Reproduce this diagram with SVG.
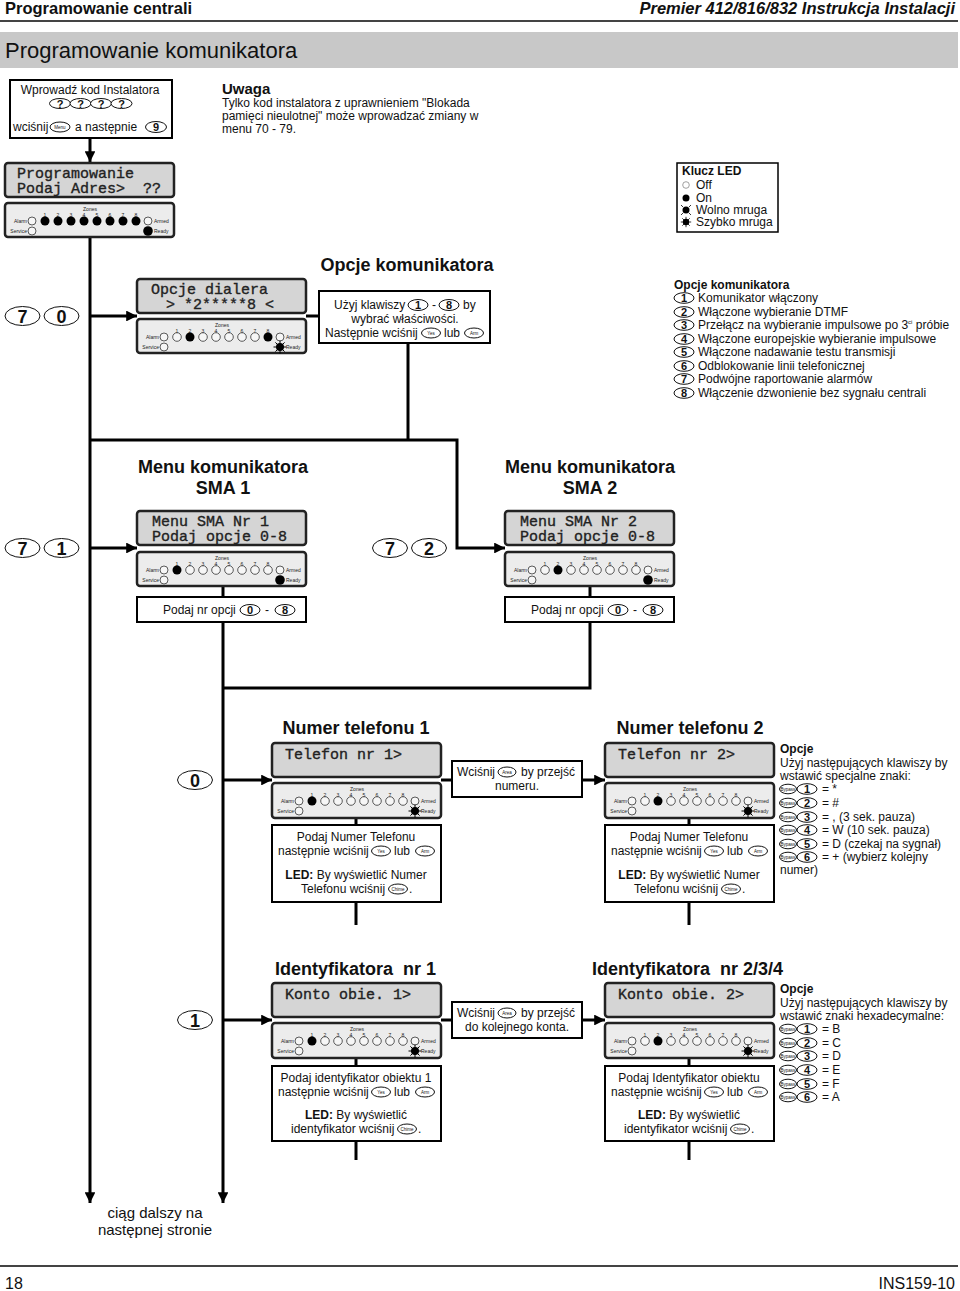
<svg xmlns="http://www.w3.org/2000/svg" width="960" height="1291" viewBox="0 0 960 1291">
<style>
text{font-family:"Liberation Sans",Arial,sans-serif;fill:#111}
.t{font-size:12px}
.c{text-anchor:middle}
.e{text-anchor:end}
.b{font-weight:bold}
.pre{white-space:pre}
.h18{font-size:18px;font-weight:bold}
.lcd{font-family:"Liberation Mono","DejaVu Sans Mono",monospace;font-size:15px;fill:#222;stroke:#222;stroke-width:.35;white-space:pre}
.ti{font-size:5px;fill:#222}
.box{fill:#fff;stroke:#000;stroke-width:2}
.lcdb{fill:#d5d5d5;stroke:#222;stroke-width:2.5}
.ledb{fill:#ececec;stroke:#222;stroke-width:2.5}
.off{fill:#f6f6f6;stroke:#333;stroke-width:.8}
.on{fill:#000}
.key{fill:#fff;stroke:#111;stroke-width:1}
.kn{font-size:11px;font-weight:bold;text-anchor:middle}
.kb{font-size:18px;font-weight:bold;text-anchor:middle}
.kl{font-size:4.5px;text-anchor:middle}
.ln{stroke:#000;stroke-width:3;fill:none}
.la{stroke:#000;stroke-width:3;fill:none;marker-end:url(#ah)}
</style>
<defs>
<marker id="ah" viewBox="0 0 10 10" refX="10" refY="5" markerWidth="3.6" markerHeight="3.6" orient="auto"><path d="M0 0L10 5L0 10z" fill="#000"/></marker>
<g id="fast"><circle r="4" fill="#000"/><path d="M0-6.5V6.5M-6.5 0H6.5M-4.6-4.6L4.6 4.6M-4.6 4.6L4.6-4.6" stroke="#000" stroke-width="1"/></g>
<g id="slow"><circle r="3.5" fill="#000"/><path d="M-5-5l2 2M5-5l-2 2M-5 5l2-2M5 5l-2-2" stroke="#000" stroke-width=".8"/></g>
</defs>

<g id="header">
<text x="5" y="14" style="font-size:16.5px;font-weight:bold">Programowanie centrali</text>
<text x="955" y="14" class="e" style="font-size:16.5px;font-weight:bold;font-style:italic">Premier 412/816/832 Instrukcja Instalacji</text>
<line x1="0" y1="21" x2="958" y2="21" stroke="#444" stroke-width="2"/>
<rect x="0" y="32" width="958" height="36" fill="#c8c8c8"/>
<text x="5" y="58" style="font-size:22px">Programowanie komunikatora</text>
</g>

<g id="connectors">
<path class="la" d="M90 139V162"/>
<path class="la" d="M90 237V1203"/>
<path class="la" d="M90 316H137"/>
<path class="la" d="M90 548H137"/>
<path class="ln" d="M306 316H319"/>
<path class="ln" d="M408 343V440"/>
<path class="la" d="M90 440H457V548H505"/>
<path class="ln" d="M223 586V597"/>
<path class="ln" d="M590 586V597"/>
<path class="la" d="M223 622V1203"/>
<path class="ln" d="M590 622V688H223"/>
<path class="la" d="M223 780H272"/>
<path class="la" d="M223 1020H272"/>
<path class="ln" d="M356 818V825"/>
<path class="ln" d="M689 818V825"/>
<path class="ln" d="M356 902V925"/>
<path class="ln" d="M689 902V925"/>
<path class="ln" d="M441 780H452"/>
<path class="la" d="M582 780H605"/>
<path class="ln" d="M356 1058V1066"/>
<path class="ln" d="M689 1058V1066"/>
<path class="ln" d="M356 1141V1160"/>
<path class="ln" d="M689 1141V1160"/>
<path class="ln" d="M441 1020H452"/>
<path class="la" d="M582 1020H605"/>
</g>

<g id="start">
<rect class="box" x="10" y="80" width="162" height="58"/>
<text class="t c" x="90" y="94">Wprowadź kod Instalatora</text>
<ellipse class="key" cx="60" cy="103.5" rx="10.5" ry="5"/><text class="kn" x="60" y="107.5">?</text>
<ellipse class="key" cx="80.5" cy="103.5" rx="10.5" ry="5"/><text class="kn" x="80.5" y="107.5">?</text>
<ellipse class="key" cx="101" cy="103.5" rx="10.5" ry="5"/><text class="kn" x="101" y="107.5">?</text>
<ellipse class="key" cx="121.5" cy="103.5" rx="10.5" ry="5"/><text class="kn" x="121.5" y="107.5">?</text>
<text class="t" x="13" y="131">wciśnij</text>
<ellipse class="key" cx="60" cy="127" rx="10" ry="5"/><text class="kl" x="60" y="128.6">Menu</text>
<text class="t" x="75" y="131">a następnie</text>
<ellipse class="key" cx="156" cy="127" rx="10.5" ry="5.5"/><text class="kn" x="156" y="131">9</text>
</g>

<g id="note">
<text x="222" y="94" style="font-size:15px;font-weight:bold">Uwaga</text>
<text class="t" x="222" y="107">Tylko kod instalatora z uprawnieniem "Blokada</text>
<text class="t" x="222" y="120">pamięci nieulotnej" może wprowadzać zmiany w</text>
<text class="t" x="222" y="133">menu 70 - 79.</text>
</g>

<g id="kp-prog">
<rect class="lcdb" x="5" y="163" width="169" height="34" rx="3"/>
<text class="lcd" x="17" y="178">Programowanie</text>
<text class="lcd" x="17" y="193">Podaj Adres>  ??</text>
<g transform="translate(5,203)">
<rect class="ledb" width="169" height="34" rx="3"/>
<text class="ti c" x="85" y="8">Zones</text>
<text class="ti c" x="40 53 66 79 92 105 118 131" y="14">12345678</text>
<text class="ti e" x="22" y="20">Alarm</text><text class="ti e" x="22" y="30">Service</text>
<text class="ti" x="149" y="20">Armed</text><text class="ti" x="149" y="30">Ready</text>
<circle class="off" cx="27" cy="18" r="4"/><circle class="off" cx="27" cy="28" r="4"/><circle class="off" cx="143" cy="18" r="4"/>
<circle class="on" cx="40" cy="18" r="4.5"/><circle class="on" cx="53" cy="18" r="4.5"/><circle class="on" cx="66" cy="18" r="4.5"/><circle class="on" cx="79" cy="18" r="4.5"/><circle class="on" cx="92" cy="18" r="4.5"/><circle class="on" cx="105" cy="18" r="4.5"/><circle class="on" cx="118" cy="18" r="4.5"/><circle class="on" cx="131" cy="18" r="4.5"/>
<circle class="on" cx="143" cy="28" r="4.8"/>
</g>
</g>

<g id="ledkey">
<rect x="677" y="163" width="101" height="69" fill="#fff" stroke="#000" stroke-width="1.5"/>
<text class="t b" x="682" y="175">Klucz LED</text>
<circle cx="686" cy="185" r="3.3" fill="#fff" stroke="#888" stroke-width=".8"/>
<text class="t" x="696" y="189">Off</text>
<circle cx="686" cy="198" r="3.5" fill="#000"/>
<text class="t" x="696" y="202">On</text>
<use href="#slow" x="686" y="210"/>
<text class="t" x="696" y="214">Wolno mruga</text>
<use href="#fast" x="686" y="222" transform="translate(686,222) scale(.8) translate(-686,-222)"/>
<text class="t" x="696" y="226">Szybko mruga</text>
</g>

<g id="keys70">
<ellipse class="key" cx="22.5" cy="316" rx="17.5" ry="9.5"/><text class="kb" x="22.5" y="322.5">7</text>
<ellipse class="key" cx="61.5" cy="316" rx="17.5" ry="9.5"/><text class="kb" x="61.5" y="322.5">0</text>
</g>

<g id="kp-70">
<rect class="lcdb" x="137" y="279" width="169" height="34" rx="3"/>
<text class="lcd" x="151" y="294">Opcje dialera</text>
<text class="lcd" x="166" y="309">> *2*****8 &lt;</text>
<g transform="translate(137,319)">
<rect class="ledb" width="169" height="34" rx="3"/>
<text class="ti c" x="85" y="8">Zones</text>
<text class="ti c" x="40 53 66 79 92 105 118 131" y="14">12345678</text>
<text class="ti e" x="22" y="20">Alarm</text><text class="ti e" x="22" y="30">Service</text>
<text class="ti" x="149" y="20">Armed</text><text class="ti" x="149" y="30">Ready</text>
<circle class="off" cx="27" cy="18" r="4"/><circle class="off" cx="27" cy="28" r="4"/><circle class="off" cx="143" cy="18" r="4"/>
<circle class="off" cx="40" cy="18" r="4.3"/><circle class="on" cx="53" cy="18" r="4.5"/><circle class="off" cx="66" cy="18" r="4.3"/><circle class="off" cx="79" cy="18" r="4.3"/><circle class="off" cx="92" cy="18" r="4.3"/><circle class="off" cx="105" cy="18" r="4.3"/><circle class="off" cx="118" cy="18" r="4.3"/><circle class="on" cx="131" cy="18" r="4.5"/>
<use href="#fast" x="143" y="28"/>
</g>
</g>

<g id="box-70">
<text class="h18 c" x="407" y="271">Opcje komunikatora</text>
<rect class="box" x="319" y="291" width="171" height="52"/>
<text class="t" x="334" y="309">Użyj klawiszy</text>
<ellipse class="key" cx="418" cy="305" rx="10" ry="5.5"/><text class="kn" x="418" y="309">1</text>
<text class="t" x="432" y="309">-</text>
<ellipse class="key" cx="449" cy="305" rx="10" ry="5.5"/><text class="kn" x="449" y="309">8</text>
<text class="t" x="463" y="309">by</text>
<text class="t c" x="405" y="323">wybrać właściwości.</text>
<text class="t" x="325" y="337">Następnie wciśnij</text>
<ellipse class="key" cx="431" cy="333" rx="9.5" ry="5"/><text class="kl" x="431" y="334.6">Yes</text>
<text class="t" x="444" y="337">lub</text>
<ellipse class="key" cx="474" cy="333" rx="9.5" ry="5"/><text class="kl" x="474" y="334.6">Arm</text>
</g>

<g id="list-70">
<text class="t b" x="674" y="289">Opcje komunikatora</text>
<ellipse class="key" cx="684" cy="298" rx="10" ry="5.3"/><text class="kn" x="684" y="302">1</text><text class="t" x="698" y="302">Komunikator włączony</text>
<ellipse class="key" cx="684" cy="312" rx="10" ry="5.3"/><text class="kn" x="684" y="316">2</text><text class="t" x="698" y="316">Włączone wybieranie DTMF</text>
<ellipse class="key" cx="684" cy="325" rx="10" ry="5.3"/><text class="kn" x="684" y="329">3</text><text class="t" x="698" y="329">Przełącz na wybieranie impulsowe po 3<tspan dy="-5" style="font-size:6px">ci</tspan><tspan dy="5"> próbie</tspan></text>
<ellipse class="key" cx="684" cy="339" rx="10" ry="5.3"/><text class="kn" x="684" y="343">4</text><text class="t" x="698" y="343">Włączone europejskie wybieranie impulsowe</text>
<ellipse class="key" cx="684" cy="352" rx="10" ry="5.3"/><text class="kn" x="684" y="356">5</text><text class="t" x="698" y="356">Włączone nadawanie testu transmisji</text>
<ellipse class="key" cx="684" cy="366" rx="10" ry="5.3"/><text class="kn" x="684" y="370">6</text><text class="t" x="698" y="370">Odblokowanie linii telefonicznej</text>
<ellipse class="key" cx="684" cy="379" rx="10" ry="5.3"/><text class="kn" x="684" y="383">7</text><text class="t" x="698" y="383">Podwójne raportowanie alarmów</text>
<ellipse class="key" cx="684" cy="393" rx="10" ry="5.3"/><text class="kn" x="684" y="397">8</text><text class="t" x="698" y="397">Włączenie dzwonienie bez sygnału centrali</text>
</g>

<g id="sma1">
<text class="h18 c" x="223" y="473">Menu komunikatora</text>
<text class="h18 c" x="223" y="494">SMA 1</text>
<ellipse class="key" cx="22.5" cy="548" rx="17.5" ry="9.5"/><text class="kb" x="22.5" y="554.5">7</text>
<ellipse class="key" cx="61.5" cy="548" rx="17.5" ry="9.5"/><text class="kb" x="61.5" y="554.5">1</text>
<rect class="lcdb" x="137" y="511" width="169" height="34" rx="3"/>
<text class="lcd" x="152" y="526">Menu SMA Nr 1</text>
<text class="lcd" x="152" y="541">Podaj opcje 0-8</text>
<g transform="translate(137,552)">
<rect class="ledb" width="169" height="34" rx="3"/>
<text class="ti c" x="85" y="8">Zones</text>
<text class="ti c" x="40 53 66 79 92 105 118 131" y="14">12345678</text>
<text class="ti e" x="22" y="20">Alarm</text><text class="ti e" x="22" y="30">Service</text>
<text class="ti" x="149" y="20">Armed</text><text class="ti" x="149" y="30">Ready</text>
<circle class="off" cx="27" cy="18" r="4"/><circle class="off" cx="27" cy="28" r="4"/><circle class="off" cx="143" cy="18" r="4"/>
<circle class="on" cx="40" cy="18" r="4.5"/><circle class="off" cx="53" cy="18" r="4.3"/><circle class="off" cx="66" cy="18" r="4.3"/><circle class="off" cx="79" cy="18" r="4.3"/><circle class="off" cx="92" cy="18" r="4.3"/><circle class="off" cx="105" cy="18" r="4.3"/><circle class="off" cx="118" cy="18" r="4.3"/><circle class="off" cx="131" cy="18" r="4.3"/>
<circle class="on" cx="143" cy="28" r="4.8"/>
</g>
<rect class="box" x="137" y="597" width="169" height="25"/>
<text class="t" x="163" y="614">Podaj nr opcji</text>
<ellipse class="key" cx="250" cy="610" rx="10" ry="5.5"/><text class="kn" x="250" y="614">0</text>
<text class="t" x="265" y="614">-</text>
<ellipse class="key" cx="285" cy="610" rx="10" ry="5.5"/><text class="kn" x="285" y="614">8</text>
</g>

<g id="sma2">
<text class="h18 c" x="590" y="473">Menu komunikatora</text>
<text class="h18 c" x="590" y="494">SMA 2</text>
<ellipse class="key" cx="390" cy="548" rx="17.5" ry="9.5"/><text class="kb" x="390" y="554.5">7</text>
<ellipse class="key" cx="429" cy="548" rx="17.5" ry="9.5"/><text class="kb" x="429" y="554.5">2</text>
<rect class="lcdb" x="505" y="511" width="169" height="34" rx="3"/>
<text class="lcd" x="520" y="526">Menu SMA Nr 2</text>
<text class="lcd" x="520" y="541">Podaj opcje 0-8</text>
<g transform="translate(505,552)">
<rect class="ledb" width="169" height="34" rx="3"/>
<text class="ti c" x="85" y="8">Zones</text>
<text class="ti c" x="40 53 66 79 92 105 118 131" y="14">12345678</text>
<text class="ti e" x="22" y="20">Alarm</text><text class="ti e" x="22" y="30">Service</text>
<text class="ti" x="149" y="20">Armed</text><text class="ti" x="149" y="30">Ready</text>
<circle class="off" cx="27" cy="18" r="4"/><circle class="off" cx="27" cy="28" r="4"/><circle class="off" cx="143" cy="18" r="4"/>
<circle class="off" cx="40" cy="18" r="4.3"/><circle class="on" cx="53" cy="18" r="4.5"/><circle class="off" cx="66" cy="18" r="4.3"/><circle class="off" cx="79" cy="18" r="4.3"/><circle class="off" cx="92" cy="18" r="4.3"/><circle class="off" cx="105" cy="18" r="4.3"/><circle class="off" cx="118" cy="18" r="4.3"/><circle class="off" cx="131" cy="18" r="4.3"/>
<circle class="on" cx="143" cy="28" r="4.8"/>
</g>
<rect class="box" x="505" y="597" width="169" height="25"/>
<text class="t" x="531" y="614">Podaj nr opcji</text>
<ellipse class="key" cx="618" cy="610" rx="10" ry="5.5"/><text class="kn" x="618" y="614">0</text>
<text class="t" x="633" y="614">-</text>
<ellipse class="key" cx="653" cy="610" rx="10" ry="5.5"/><text class="kn" x="653" y="614">8</text>
</g>

<g id="tel1">
<ellipse class="key" cx="195" cy="780" rx="17.5" ry="9.5"/><text class="kb" x="195" y="786.5">0</text>
<text class="h18 c" x="356" y="734">Numer telefonu 1</text>
<rect class="lcdb" x="272" y="743" width="169" height="34" rx="3"/>
<text class="lcd" x="285" y="759">Telefon nr 1></text>
<g transform="translate(272,783)">
<rect class="ledb" width="169" height="35" rx="3"/>
<text class="ti c" x="85" y="8">Zones</text>
<text class="ti c" x="40 53 66 79 92 105 118 131" y="14">12345678</text>
<text class="ti e" x="22" y="20">Alarm</text><text class="ti e" x="22" y="30">Service</text>
<text class="ti" x="149" y="20">Armed</text><text class="ti" x="149" y="30">Ready</text>
<circle class="off" cx="27" cy="18" r="4"/><circle class="off" cx="27" cy="28" r="4"/><circle class="off" cx="143" cy="18" r="4"/>
<circle class="on" cx="40" cy="18" r="4.5"/><circle class="off" cx="53" cy="18" r="4.3"/><circle class="off" cx="66" cy="18" r="4.3"/><circle class="off" cx="79" cy="18" r="4.3"/><circle class="off" cx="92" cy="18" r="4.3"/><circle class="off" cx="105" cy="18" r="4.3"/><circle class="off" cx="118" cy="18" r="4.3"/><circle class="off" cx="131" cy="18" r="4.3"/>
<use href="#fast" x="143" y="28"/>
</g>
<rect class="box" x="272" y="825" width="169" height="77"/>
<text class="t c" x="356" y="841">Podaj Numer Telefonu</text>
<text class="t" x="278" y="855">następnie wciśnij</text>
<ellipse class="key" cx="381" cy="851" rx="9.5" ry="5"/><text class="kl" x="381" y="852.6">Yes</text>
<text class="t" x="394" y="855">lub</text>
<ellipse class="key" cx="425" cy="851" rx="9.5" ry="5"/><text class="kl" x="425" y="852.6">Arm</text>
<text class="t c" x="356" y="879"><tspan class="b">LED:</tspan> By wyświetlić Numer</text>
<text class="t" x="301" y="893">Telefonu wciśnij</text>
<ellipse class="key" cx="398" cy="889" rx="9.5" ry="5"/><text class="kl" x="398" y="890.6">Chime</text>
<text class="t" x="409" y="893">.</text>
</g>

<g id="area1">
<rect class="box" x="452" y="761" width="130" height="36"/>
<text class="t" x="457" y="776">Wciśnij</text>
<ellipse class="key" cx="507" cy="772" rx="9" ry="5"/><text class="kl" x="507" y="773.6">Area</text>
<text class="t" x="521" y="776">by przejść</text>
<text class="t c" x="517" y="790">numeru.</text>
</g>

<g id="tel2">
<text class="h18 c" x="690" y="734">Numer telefonu 2</text>
<rect class="lcdb" x="605" y="743" width="169" height="34" rx="3"/>
<text class="lcd" x="618" y="759">Telefon nr 2></text>
<g transform="translate(605,783)">
<rect class="ledb" width="169" height="35" rx="3"/>
<text class="ti c" x="85" y="8">Zones</text>
<text class="ti c" x="40 53 66 79 92 105 118 131" y="14">12345678</text>
<text class="ti e" x="22" y="20">Alarm</text><text class="ti e" x="22" y="30">Service</text>
<text class="ti" x="149" y="20">Armed</text><text class="ti" x="149" y="30">Ready</text>
<circle class="off" cx="27" cy="18" r="4"/><circle class="off" cx="27" cy="28" r="4"/><circle class="off" cx="143" cy="18" r="4"/>
<circle class="off" cx="40" cy="18" r="4.3"/><circle class="on" cx="53" cy="18" r="4.5"/><circle class="off" cx="66" cy="18" r="4.3"/><circle class="off" cx="79" cy="18" r="4.3"/><circle class="off" cx="92" cy="18" r="4.3"/><circle class="off" cx="105" cy="18" r="4.3"/><circle class="off" cx="118" cy="18" r="4.3"/><circle class="off" cx="131" cy="18" r="4.3"/>
<use href="#fast" x="143" y="28"/>
</g>
<rect class="box" x="605" y="825" width="169" height="77"/>
<text class="t c" x="689" y="841">Podaj Numer Telefonu</text>
<text class="t" x="611" y="855">następnie wciśnij</text>
<ellipse class="key" cx="714" cy="851" rx="9.5" ry="5"/><text class="kl" x="714" y="852.6">Yes</text>
<text class="t" x="727" y="855">lub</text>
<ellipse class="key" cx="758" cy="851" rx="9.5" ry="5"/><text class="kl" x="758" y="852.6">Arm</text>
<text class="t c" x="689" y="879"><tspan class="b">LED:</tspan> By wyświetlić Numer</text>
<text class="t" x="634" y="893">Telefonu wciśnij</text>
<ellipse class="key" cx="731" cy="889" rx="9.5" ry="5"/><text class="kl" x="731" y="890.6">Chime</text>
<text class="t" x="742" y="893">.</text>
</g>

<g id="opts-tel">
<text class="t b" x="780" y="753">Opcje</text>
<text class="t" x="780" y="767">Użyj następujących klawiszy by</text>
<text class="t" x="780" y="780">wstawić specjalne znaki:</text>
<ellipse class="key" cx="788" cy="789" rx="8.5" ry="4.8"/><text class="kl" x="788" y="790.6">Bypass</text><ellipse class="key" cx="807" cy="789" rx="10" ry="5.3"/><text class="kn" x="807" y="793">1</text><text class="t" x="822" y="793">= *</text>
<ellipse class="key" cx="788" cy="803" rx="8.5" ry="4.8"/><text class="kl" x="788" y="804.6">Bypass</text><ellipse class="key" cx="807" cy="803" rx="10" ry="5.3"/><text class="kn" x="807" y="807">2</text><text class="t" x="822" y="807">= #</text>
<ellipse class="key" cx="788" cy="817" rx="8.5" ry="4.8"/><text class="kl" x="788" y="818.6">Bypass</text><ellipse class="key" cx="807" cy="817" rx="10" ry="5.3"/><text class="kn" x="807" y="821">3</text><text class="t" x="822" y="821">= , (3 sek. pauza)</text>
<ellipse class="key" cx="788" cy="830" rx="8.5" ry="4.8"/><text class="kl" x="788" y="831.6">Bypass</text><ellipse class="key" cx="807" cy="830" rx="10" ry="5.3"/><text class="kn" x="807" y="834">4</text><text class="t" x="822" y="834">= W (10 sek. pauza)</text>
<ellipse class="key" cx="788" cy="844" rx="8.5" ry="4.8"/><text class="kl" x="788" y="845.6">Bypass</text><ellipse class="key" cx="807" cy="844" rx="10" ry="5.3"/><text class="kn" x="807" y="848">5</text><text class="t" x="822" y="848">= D (czekaj na sygnał)</text>
<ellipse class="key" cx="788" cy="857" rx="8.5" ry="4.8"/><text class="kl" x="788" y="858.6">Bypass</text><ellipse class="key" cx="807" cy="857" rx="10" ry="5.3"/><text class="kn" x="807" y="861">6</text><text class="t" x="822" y="861">= + (wybierz kolejny</text>
<text class="t" x="780" y="874">numer)</text>
</g>

<g id="konto1">
<ellipse class="key" cx="195" cy="1020" rx="17.5" ry="9.5"/><text class="kb" x="195" y="1026.5">1</text>
<text class="h18 pre" x="275" y="975">Identyfikatora  nr 1</text>
<rect class="lcdb" x="272" y="983" width="169" height="34" rx="3"/>
<text class="lcd" x="285" y="999">Konto obie. 1></text>
<g transform="translate(272,1023)">
<rect class="ledb" width="169" height="35" rx="3"/>
<text class="ti c" x="85" y="8">Zones</text>
<text class="ti c" x="40 53 66 79 92 105 118 131" y="14">12345678</text>
<text class="ti e" x="22" y="20">Alarm</text><text class="ti e" x="22" y="30">Service</text>
<text class="ti" x="149" y="20">Armed</text><text class="ti" x="149" y="30">Ready</text>
<circle class="off" cx="27" cy="18" r="4"/><circle class="off" cx="27" cy="28" r="4"/><circle class="off" cx="143" cy="18" r="4"/>
<circle class="on" cx="40" cy="18" r="4.5"/><circle class="off" cx="53" cy="18" r="4.3"/><circle class="off" cx="66" cy="18" r="4.3"/><circle class="off" cx="79" cy="18" r="4.3"/><circle class="off" cx="92" cy="18" r="4.3"/><circle class="off" cx="105" cy="18" r="4.3"/><circle class="off" cx="118" cy="18" r="4.3"/><circle class="off" cx="131" cy="18" r="4.3"/>
<use href="#fast" x="143" y="28"/>
</g>
<rect class="box" x="272" y="1066" width="169" height="75"/>
<text class="t c" x="356" y="1082">Podaj identyfikator obiektu 1</text>
<text class="t" x="278" y="1096">następnie wciśnij</text>
<ellipse class="key" cx="381" cy="1092" rx="9.5" ry="5"/><text class="kl" x="381" y="1093.6">Yes</text>
<text class="t" x="394" y="1096">lub</text>
<ellipse class="key" cx="425" cy="1092" rx="9.5" ry="5"/><text class="kl" x="425" y="1093.6">Arm</text>
<text class="t c" x="356" y="1119"><tspan class="b">LED:</tspan> By wyświetlić</text>
<text class="t" x="291" y="1133">identyfikator wciśnij</text>
<ellipse class="key" cx="407" cy="1129" rx="9.5" ry="5"/><text class="kl" x="407" y="1130.6">Chime</text>
<text class="t" x="418" y="1133">.</text>
</g>

<g id="area2">
<rect class="box" x="452" y="1002" width="130" height="36"/>
<text class="t" x="457" y="1017">Wciśnij</text>
<ellipse class="key" cx="507" cy="1013" rx="9" ry="5"/><text class="kl" x="507" y="1014.6">Area</text>
<text class="t" x="521" y="1017">by przejść</text>
<text class="t c" x="517" y="1031">do kolejnego konta.</text>
</g>

<g id="konto2">
<text class="h18 pre" x="592" y="975">Identyfikatora  nr 2/3/4</text>
<rect class="lcdb" x="605" y="983" width="169" height="34" rx="3"/>
<text class="lcd" x="618" y="999">Konto obie. 2></text>
<g transform="translate(605,1023)">
<rect class="ledb" width="169" height="35" rx="3"/>
<text class="ti c" x="85" y="8">Zones</text>
<text class="ti c" x="40 53 66 79 92 105 118 131" y="14">12345678</text>
<text class="ti e" x="22" y="20">Alarm</text><text class="ti e" x="22" y="30">Service</text>
<text class="ti" x="149" y="20">Armed</text><text class="ti" x="149" y="30">Ready</text>
<circle class="off" cx="27" cy="18" r="4"/><circle class="off" cx="27" cy="28" r="4"/><circle class="off" cx="143" cy="18" r="4"/>
<circle class="off" cx="40" cy="18" r="4.3"/><circle class="on" cx="53" cy="18" r="4.5"/><circle class="off" cx="66" cy="18" r="4.3"/><circle class="off" cx="79" cy="18" r="4.3"/><circle class="off" cx="92" cy="18" r="4.3"/><circle class="off" cx="105" cy="18" r="4.3"/><circle class="off" cx="118" cy="18" r="4.3"/><circle class="off" cx="131" cy="18" r="4.3"/>
<use href="#fast" x="143" y="28"/>
</g>
<rect class="box" x="605" y="1066" width="169" height="75"/>
<text class="t c" x="689" y="1082">Podaj Identyfikator obiektu</text>
<text class="t" x="611" y="1096">następnie wciśnij</text>
<ellipse class="key" cx="714" cy="1092" rx="9.5" ry="5"/><text class="kl" x="714" y="1093.6">Yes</text>
<text class="t" x="727" y="1096">lub</text>
<ellipse class="key" cx="758" cy="1092" rx="9.5" ry="5"/><text class="kl" x="758" y="1093.6">Arm</text>
<text class="t c" x="689" y="1119"><tspan class="b">LED:</tspan> By wyświetlić</text>
<text class="t" x="624" y="1133">identyfikator wciśnij</text>
<ellipse class="key" cx="740" cy="1129" rx="9.5" ry="5"/><text class="kl" x="740" y="1130.6">Chime</text>
<text class="t" x="751" y="1133">.</text>
</g>

<g id="opts-hex">
<text class="t b" x="780" y="993">Opcje</text>
<text class="t" x="780" y="1007">Użyj następujących klawiszy by</text>
<text class="t" x="780" y="1020">wstawić znaki hexadecymalne:</text>
<ellipse class="key" cx="788" cy="1029" rx="8.5" ry="4.8"/><text class="kl" x="788" y="1030.6">Bypass</text><ellipse class="key" cx="807" cy="1029" rx="10" ry="5.3"/><text class="kn" x="807" y="1033">1</text><text class="t" x="822" y="1033">= B</text>
<ellipse class="key" cx="788" cy="1043" rx="8.5" ry="4.8"/><text class="kl" x="788" y="1044.6">Bypass</text><ellipse class="key" cx="807" cy="1043" rx="10" ry="5.3"/><text class="kn" x="807" y="1047">2</text><text class="t" x="822" y="1047">= C</text>
<ellipse class="key" cx="788" cy="1056" rx="8.5" ry="4.8"/><text class="kl" x="788" y="1057.6">Bypass</text><ellipse class="key" cx="807" cy="1056" rx="10" ry="5.3"/><text class="kn" x="807" y="1060">3</text><text class="t" x="822" y="1060">= D</text>
<ellipse class="key" cx="788" cy="1070" rx="8.5" ry="4.8"/><text class="kl" x="788" y="1071.6">Bypass</text><ellipse class="key" cx="807" cy="1070" rx="10" ry="5.3"/><text class="kn" x="807" y="1074">4</text><text class="t" x="822" y="1074">= E</text>
<ellipse class="key" cx="788" cy="1084" rx="8.5" ry="4.8"/><text class="kl" x="788" y="1085.6">Bypass</text><ellipse class="key" cx="807" cy="1084" rx="10" ry="5.3"/><text class="kn" x="807" y="1088">5</text><text class="t" x="822" y="1088">= F</text>
<ellipse class="key" cx="788" cy="1097" rx="8.5" ry="4.8"/><text class="kl" x="788" y="1098.6">Bypass</text><ellipse class="key" cx="807" cy="1097" rx="10" ry="5.3"/><text class="kn" x="807" y="1101">6</text><text class="t" x="822" y="1101">= A</text>
</g>

<g id="continue">
<text class="c" x="155" y="1218" style="font-size:15px">ciąg dalszy na</text>
<text class="c" x="155" y="1235" style="font-size:15px">następnej stronie</text>
</g>

<g id="footer">
<line x1="0" y1="1266" x2="958" y2="1266" stroke="#444" stroke-width="2"/>
<text x="5" y="1289" style="font-size:16px">18</text>
<text class="e" x="955" y="1289" style="font-size:16px">INS159-10</text>
</g>
</svg>
